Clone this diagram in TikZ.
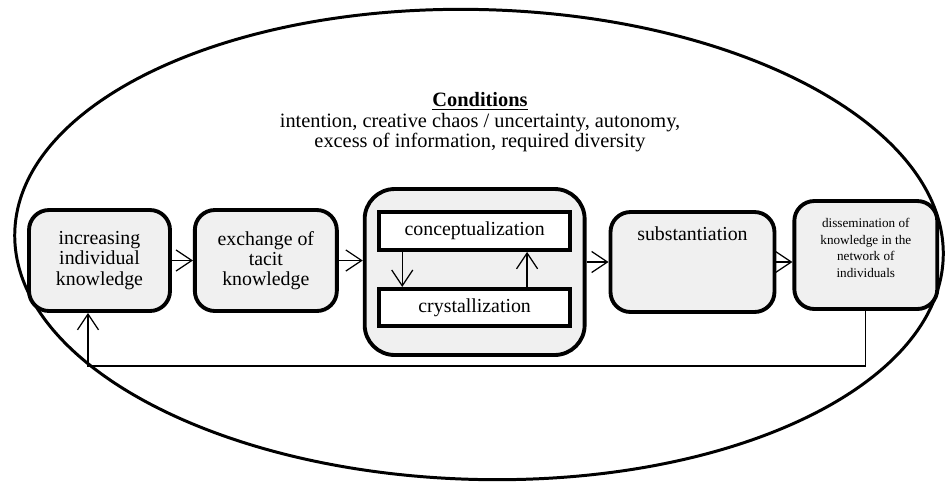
\documentclass[tikz,border=0pt]{standalone}
\usepackage{fontspec}
\setmainfont{Liberation Serif}
\usetikzlibrary{arrows.meta,positioning}
\tikzset{
  stage/.style = {rectangle, rounded corners=0.4cm, draw=black, line width=2.2pt,
    fill=black!6, align=center, inner sep=2pt,
    font=\fontsize{11.3}{11.5}\selectfont},% rounded grey box
  inner_box/.style = {rectangle, draw=black, line width=2.2pt, fill=white,
    inner sep=2pt, font=\fontsize{11.3}{11.5}\selectfont},% white box inside C
  cond_txt/.style = {align=center, inner sep=0pt,
    font=\fontsize{11.6}{10.3}\selectfont},
  small_txt/.style = {align=center, inner sep=0pt,
    font=\fontsize{7.5}{9.4}\selectfont},
  thin_arr/.style = {->, line width=0.7pt}
}
\begin{document}
\begin{tikzpicture}[x=0.02cm, y=-0.02cm, >={Straight Barb[length=9pt,width=12pt]}]
        \useasboundingbox (0,0) rectangle (946,485);
        % outer ellipse
        \draw[line width=1.7pt, rotate around={-1.5:(479,244.5)}]
            (479,244.5) ellipse [x radius=9.29cm, y radius=4.7cm];
        \node [cond_txt, anchor=north](T) at (480,92)
            {\textbf{\underline{Conditions}}\\[1.5pt]
             intention, creative chaos / uncertainty, autonomy,\\
             excess of information, required diversity};
        \node [stage, minimum width=2.82cm, minimum height=2.02cm](A) at (99.5,260.5)
            {increasing\\individual\\knowledge};
        \node [stage, minimum width=2.84cm, minimum height=2.02cm, right= 0.42cm of A](B)
            {exchange of\\tacit\\knowledge};
        \node [stage, rounded corners=0.6cm, minimum width=4.4cm, minimum height=3.32cm,
            right= 0.48cm of B, yshift=-0.23cm](C) {};
        \node [inner_box, minimum width=3.82cm, minimum height=0.76cm,
            below= 0.46cm of C.north](C1) {conceptualization};
        \node [inner_box, minimum width=3.82cm, minimum height=0.74cm,
            below= 0.7cm of C1](C2) {crystallization};
        \node [stage, minimum width=3.28cm, minimum height=2.0cm, text height=8pt,
            text depth=32pt, right= 0.44cm of C, yshift=0.2cm](D) {substantiation};
        \node [stage, minimum width=2.86cm, minimum height=2.16cm,
            right= 0.32cm of D, yshift=0.14cm](E) {};
        \node [small_txt](E_txt) at ([yshift=4pt]E.center)
            {dissemination of\\knowledge in the\\network of\\individuals};
        \draw [thin_arr] (A.east) -- (A.east -| B.west);
        \draw [thin_arr] (B.east) -- (B.east -| C.west);
        \draw [thin_arr] (D.west -| C.east) -- (D.west);
        \draw [thin_arr] (D.east) -- (D.east -| E.west);
        \draw [thin_arr] ([xshift=0.5cm]C1.south west) -- ([xshift=0.5cm]C1.south west |- C2.north);
        \draw [thin_arr] ([xshift=-0.9cm]C2.north east) -- ([xshift=-0.9cm]C2.north east |- C1.south);
        \coordinate (R) at (88,366);
        \draw [thin_arr] (E.south) |- (R) -- (R |- A.south);
\end{tikzpicture}
\end{document}
